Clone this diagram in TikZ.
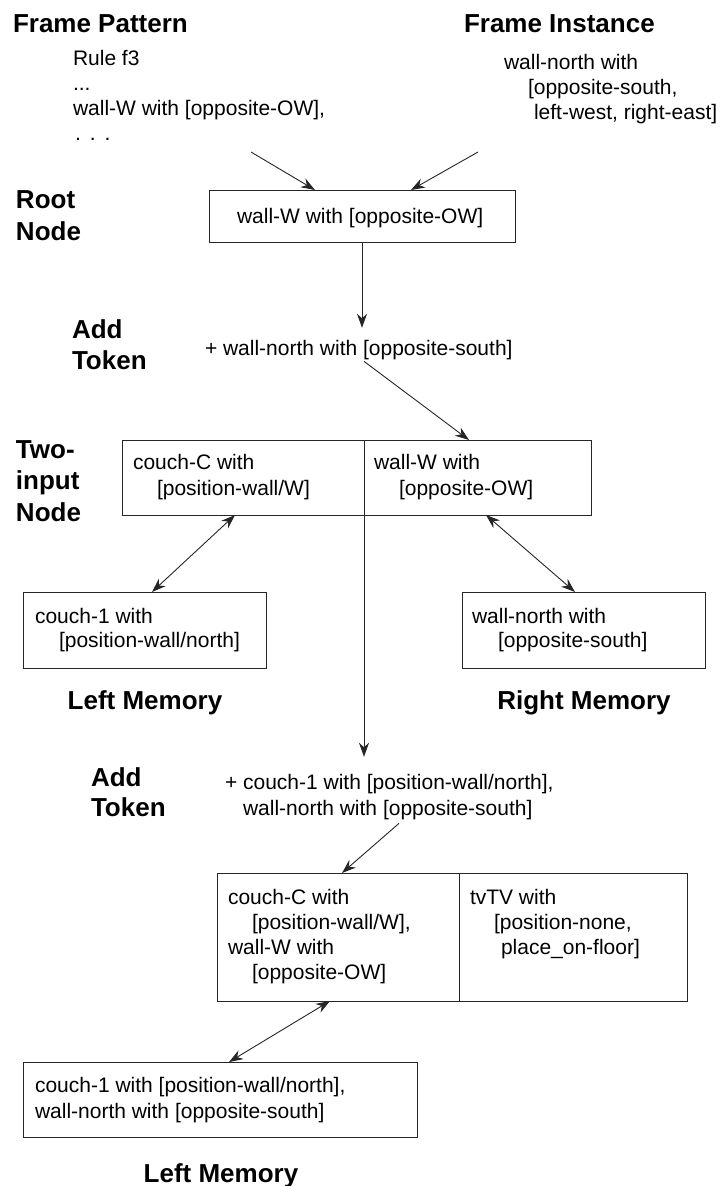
\documentclass[tikz,border=0pt]{standalone}
\usepackage{fontspec}
\setmainfont{Liberation Sans}
\usetikzlibrary{arrows.meta,calc}

\begin{document}
\begin{tikzpicture}[x=1pt,y=-1pt,
  every node/.style={inner sep=0pt, outer sep=0pt},
  body/.style={anchor=base west, font=\fontsize{21}{25}\selectfont},
  head/.style={anchor=base west, font=\fontsize{26}{30}\selectfont\bfseries},
  box/.style={draw=black!85, line width=1pt, anchor=north west},
  >={Stealth[length=14pt,width=10pt,inset=4.5pt]},
  link/.style={draw=black!85, line width=0.9pt, ->},
  dlink/.style={draw=black!85, line width=0.9pt, <->}
]
\useasboundingbox (0,0) rectangle (722,1186);

% ---- inputs ----
\node[head] (hfp) at (13,32) {Frame Pattern};
\node[head] (hfi) at (464,32) {Frame Instance};

\node[body] (fp1) at (73,65) {Rule f3};
\node[body] (fp2) at (73,90) {...};
\node[body] (fp3) at (73,115) {wall-W with [opposite-OW],};
\node[body] (fp4) at (75,140) {.\hspace{9pt}.\hspace{9pt}.};

\node[body] (fi1) at (504,69) {wall-north with};
\node[body] (fi2) at (528,94) {[opposite-south,};
\node[body] (fi3) at (534,119) {left-west, right-east]};

\coordinate (fpout) at (251,152);
\coordinate (fiout) at (478,152);

% ---- root node ----
\node[head] (hroot1) at (16,208) {Root};
\node[head] (hroot2) at (16,240) {Node};
\node[box, minimum width=306pt, minimum height=52pt] (root) at (209,190) {};
\node[body] (roottxt) at (237,223) {wall-W with [opposite-OW]};

\draw[link] (fpout) -- ($(root.north west)+(106,0)$);
\draw[link] (fiout) -- ($(root.north west)+(202,0)$);

% ---- first token ----
\node[head] (hadd1) at (72,338) {Add};
\node[head] (htok1) at (72,369) {Token};
\node[body] (tok1) at (205,355) {+ wall-north with [opposite-south]};

\draw[link] ($(root.south west)+(153,0)$) -- ($(tok1.north west)+(157,-12)$);

% ---- two-input node ----
\node[head] (htwo1) at (16,458) {Two-};
\node[head] (htwo2) at (16,489) {input};
\node[head] (htwo3) at (16,521) {Node};
\node[box, minimum width=242pt, minimum height=75pt] (tinL) at (122,440) {};
\node[box, minimum width=227pt, minimum height=75pt] (tinR) at (364,440) {};
\node[body] (tl1) at (133,469) {couch-C with};
\node[body] (tl2) at (157,495) {[position-wall/W]};
\node[body] (tr1) at (374,469) {wall-W with};
\node[body] (tr2) at (399,495) {[opposite-OW]};

\draw[link] ($(tok1.south west)+(159,2)$) -- ($(tinR.north west)+(105,0)$);

% ---- memories ----
\node[box, minimum width=243pt, minimum height=76pt] (lmem1) at (23,592) {};
\node[box, minimum width=243pt, minimum height=76pt] (rmem1) at (462,592) {};
\node[body] (lm1a) at (35,623) {couch-1 with};
\node[body] (lm1b) at (59,647) {[position-wall/north]};
\node[body] (rm1a) at (472,623) {wall-north with};
\node[body] (rm1b) at (498,647) {[opposite-south]};
\node[head, anchor=base] (hlm1) at (145,709) {Left Memory};
\node[head, anchor=base] (hrm1) at (584,709) {Right Memory};

\draw[dlink] ($(tinL.south west)+(113,0)$) -- ($(lmem1.north west)+(129,0)$);
\draw[dlink] ($(tinR.south west)+(122,0)$) -- ($(rmem1.north west)+(113,0)$);

% ---- second token ----
\node[head] (hadd2) at (91,786) {Add};
\node[head] (htok2) at (91,816) {Token};
\node[body] (tok2a) at (225,789) {+ couch-1 with [position-wall/north],};
\node[body] (tok2b) at (243,815) {wall-north with [opposite-south]};

\draw[link] (tinL.south east) -- ($(tok2a.north west)+(139,-17)$);

% ---- second two-input node ----
\node[box, minimum width=242pt, minimum height=128pt] (tinBL) at (217,873) {};
\node[box, minimum width=228pt, minimum height=128pt] (tinBR) at (459,873) {};
\node[body] (bl1) at (228,904) {couch-C with};
\node[body] (bl2) at (252,929) {[position-wall/W],};
\node[body] (bl3) at (228,954) {wall-W with};
\node[body] (bl4) at (252,979) {[opposite-OW]};
\node[body] (br1) at (470,904) {tvTV with};
\node[body] (br2) at (494,929) {[position-none,};
\node[body] (br3) at (501,954) {place\_on-floor]};

\draw[link] ($(tok2b.south west)+(156,4)$) -- ($(tinBL.north west)+(125,0)$);

% ---- final memory ----
\node[box, minimum width=394pt, minimum height=75pt] (lmem2) at (23,1062) {};
\node[body] (lm2a) at (35,1092) {couch-1 with [position-wall/north],};
\node[body] (lm2b) at (35,1118) {wall-north with [opposite-south]};
\node[head, anchor=base] (hlm2) at (221,1182) {Left Memory};

\draw[dlink] ($(tinBL.south west)+(113,0)$) -- ($(lmem2.north west)+(206,0)$);
\end{tikzpicture}
\end{document}
